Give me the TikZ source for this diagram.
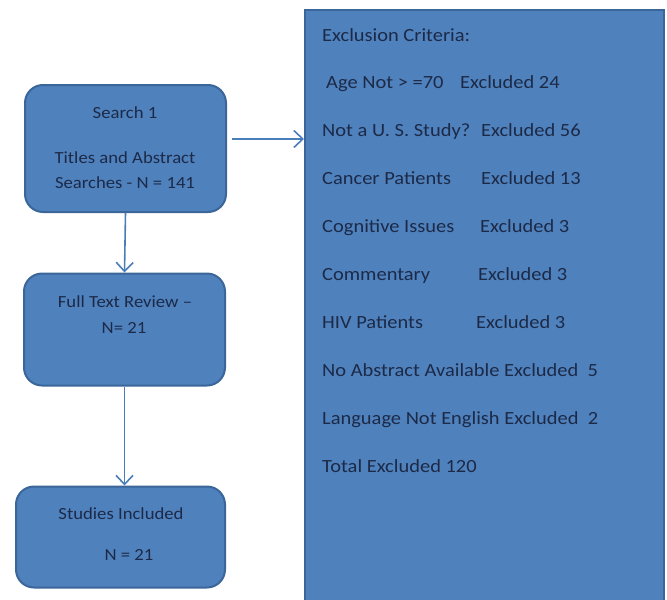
\documentclass[tikz,border=0pt]{standalone}
\usepackage{fontspec}
\setmainfont{Carlito}
\newfontfamily\boxfont[FakeStretch=1.1]{Carlito}
\usetikzlibrary{arrows.meta}
\definecolor{boxfill}{HTML}{4F81BD}
\definecolor{boxline}{HTML}{3A6699}
\definecolor{txt}{HTML}{1C2A48}
\definecolor{arrcol}{HTML}{4A7EBB}
\begin{document}
\begin{tikzpicture}[x=1pt,y=-1pt,
  flowbox/.style={draw=boxline,fill=boxfill,line width=2pt,rounded corners=18pt,inner sep=0pt},
  bigbox/.style={draw=boxline,fill=boxfill,line width=2pt,inner sep=0pt},
  lbl/.style={text=txt,font=\boxfont\fontsize{17}{20}\selectfont,inner sep=0pt,anchor=base},
  rl/.style={text=txt,font=\boxfont\fontsize{18.6}{22}\selectfont,inner sep=0pt,anchor=base west},
  arr/.style={draw=arrcol,line width=1.6pt,-{Straight Barb[length=9pt,width=17pt,line width=1.6pt]}}]
\useasboundingbox (0,0) rectangle (667,600);
% boxes
\node[flowbox,minimum width=201pt,minimum height=127pt] (b1) at (125.5,148.5) {};
\node[flowbox,minimum width=201pt,minimum height=112pt] (b2) at (124.5,329.5) {};
\node[flowbox,minimum width=209pt,minimum height=101pt] (b3) at (120.5,537) {};
\node[bigbox,minimum width=359pt,minimum height=600pt] (big) at (484.5,310) {};
% box texts
\node[lbl] (t1a) at (125,118) {Search 1};
\node[lbl] (t1b) at (125,163.5) {Titles and Abstract};
\node[lbl] (t1c) at (125,188) {Searches - N = 141};
\node[lbl] (t2a) at (125,307) {Full Text Review –};
\node[lbl] (t2b) at (124,333) {N= 21};
\node[lbl] (t3a) at (121,519) {Studies Included};
\node[lbl] (t3b) at (129,560) {N = 21};
% exclusion list
\node[rl] (e0) at (322,41) {Exclusion Criteria:};
\node[rl] (e1) at (326,88.5) {\makebox[134pt][l]{Age Not > =70}Excluded 24};
\node[rl] (e2) at (322,136.5) {\makebox[159pt][l]{Not a U. S. Study?}Excluded 56};
\node[rl] (e3) at (322,184.5) {\makebox[159pt][l]{Cancer Patients}Excluded 13};
\node[rl] (e4) at (322,232) {\makebox[158pt][l]{Cognitive Issues}Excluded 3};
\node[rl] (e5) at (322,280) {\makebox[156pt][l]{Commentary}Excluded 3};
\node[rl] (e6) at (322,328) {\makebox[154pt][l]{HIV Patients}Excluded 3};
\node[rl] (e7) at (322,376) {No Abstract Available Excluded\ \ 5};
\node[rl] (e8) at (322,424) {Language Not English Excluded\ \ 2};
\node[rl] (e9) at (322,472) {Total Excluded 120};
% connectors
\coordinate (a1s) at (232,139);
\draw[arr] (a1s) -- (a1s -| big.west);
\draw[arr] (b1.south) -- (b2.north);
\draw[arr] (b2.south) -- (b2.south |- b3.north);
\end{tikzpicture}
\end{document}
